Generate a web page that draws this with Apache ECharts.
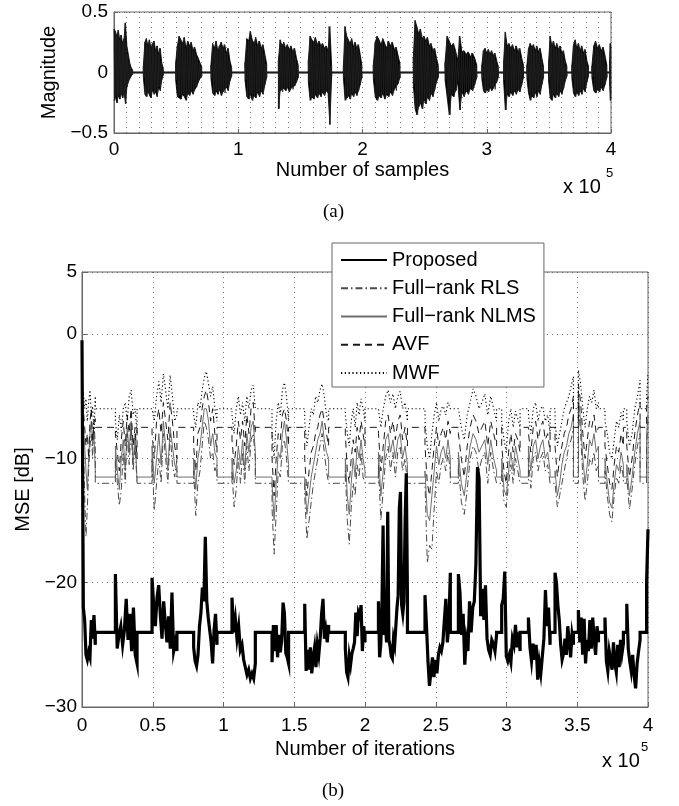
<!DOCTYPE html>
<html><head><meta charset="utf-8">
<script src="https://cdn.jsdelivr.net/npm/echarts@6/dist/echarts.min.js"></script>
<style>html,body{margin:0;padding:0;background:#fff}#c{width:679px;height:806px}</style>
</head><body><div id="c"></div>
<script>
// ---------- (a) speech signal: burst spans (x 1e5 samples) and peak envelopes ----------
const sigStart = [0, 0.236, 0.496, 0.78, 1.054, 1.323, 1.564, 1.846, 2.087, 2.409, 2.664, 2.96, 3.135, 3.323, 3.497, 3.685, 3.846, 3.989];
const sigEnd   = [0.15, 0.397, 0.706, 0.947, 1.229, 1.483, 1.752, 1.995, 2.302, 2.61, 2.92, 3.093, 3.296, 3.457, 3.645, 3.819, 3.967, 4.0];
const sigHi = [
  [0.36,0.34,0.30,0.35,0.27,0.31,0.24,0.28,0.41,0.22,0.15,0.08,0.04,0.02],
  [0.05,0.25,0.28,0.22,0.27,0.2,0.24,0.26,0.18,0.22,0.15,0.2,0.08,0.03],
  [0.08,0.22,0.3,0.27,0.24,0.29,0.2,0.26,0.22,0.25,0.18,0.21,0.15,0.12,0.08,0.05],
  [0.06,0.24,0.2,0.26,0.18,0.22,0.25,0.2,0.23,0.16,0.2,0.1,0.04],
  [0.08,0.28,0.26,0.34,0.27,0.24,0.29,0.22,0.26,0.2,0.23,0.15,0.07],
  [0.1,0.27,0.22,0.25,0.2,0.23,0.19,0.22,0.17,0.2,0.12,0.06],
  [0.1,0.3,0.27,0.25,0.29,0.23,0.26,0.22,0.24,0.2,0.22,0.18,0.38,0.05],
  [0.05,0.38,0.3,0.27,0.24,0.28,0.21,0.25,0.2,0.23,0.15,0.06],
  [0.06,0.25,0.3,0.27,0.23,0.28,0.24,0.2,0.26,0.22,0.25,0.19,0.21,0.14,0.07],
  [0.12,0.43,0.38,0.32,0.36,0.28,0.3,0.26,0.29,0.22,0.24,0.18,0.2,0.12,0.06],
  [0.08,0.3,0.26,0.22,0.24,0.18,0.1,0.3,0.17,0.18,0.15,0.17,0.13,0.16,0.12,0.06],
  [0.06,0.18,0.2,0.16,0.19,0.15,0.18,0.14,0.16,0.1,0.05],
  [0.08,0.335,0.22,0.24,0.2,0.23,0.18,0.22,0.17,0.2,0.12,0.06],
  [0.06,0.2,0.24,0.21,0.23,0.18,0.22,0.17,0.2,0.12,0.05],
  [0.08,0.3,0.22,0.26,0.2,0.24,0.19,0.22,0.16,0.18,0.1,0.05],
  [0.06,0.23,0.27,0.2,0.24,0.18,0.22,0.16,0.19,0.1,0.05],
  [0.05,0.22,0.26,0.2,0.23,0.18,0.21,0.14,0.06],
  [0.1,0.24,0.2]
];
const sigLo = [
  [-0.23,-0.2,-0.25,-0.19,-0.22,-0.17,-0.21,-0.16,-0.26,-0.12,-0.08,-0.05,-0.03,-0.02],
  [-0.04,-0.18,-0.2,-0.15,-0.19,-0.21,-0.14,-0.18,-0.16,-0.2,-0.12,-0.15,-0.06,-0.02],
  [-0.06,-0.2,-0.19,-0.22,-0.18,-0.2,-0.23,-0.17,-0.19,-0.15,-0.18,-0.14,-0.12,-0.08,-0.05,-0.03],
  [-0.05,-0.17,-0.19,-0.15,-0.18,-0.14,-0.19,-0.16,-0.17,-0.12,-0.15,-0.07,-0.03],
  [-0.06,-0.2,-0.22,-0.18,-0.23,-0.19,-0.21,-0.16,-0.2,-0.15,-0.18,-0.1,-0.04],
  [-0.3,-0.15,-0.16,-0.13,-0.15,-0.12,-0.16,-0.13,-0.14,-0.11,-0.08,-0.04],
  [-0.08,-0.23,-0.2,-0.22,-0.18,-0.21,-0.17,-0.2,-0.16,-0.19,-0.15,-0.17,-0.43,-0.03],
  [-0.04,-0.23,-0.21,-0.19,-0.22,-0.17,-0.2,-0.16,-0.19,-0.15,-0.1,-0.04],
  [-0.05,-0.2,-0.23,-0.19,-0.21,-0.17,-0.22,-0.18,-0.2,-0.16,-0.19,-0.14,-0.15,-0.09,-0.04],
  [-0.1,-0.3,-0.35,-0.28,-0.25,-0.3,-0.22,-0.26,-0.2,-0.23,-0.17,-0.2,-0.14,-0.08,-0.04],
  [-0.06,-0.2,-0.35,-0.18,-0.2,-0.15,-0.08,-0.31,-0.16,-0.2,-0.15,-0.18,-0.13,-0.15,-0.1,-0.04],
  [-0.05,-0.15,-0.17,-0.14,-0.16,-0.12,-0.15,-0.13,-0.14,-0.08,-0.04],
  [-0.06,-0.31,-0.18,-0.2,-0.16,-0.19,-0.15,-0.18,-0.14,-0.16,-0.1,-0.04],
  [-0.05,-0.17,-0.23,-0.19,-0.21,-0.16,-0.2,-0.15,-0.18,-0.1,-0.04],
  [-0.06,-0.21,-0.23,-0.18,-0.21,-0.17,-0.2,-0.15,-0.18,-0.13,-0.07,-0.03],
  [-0.05,-0.17,-0.2,-0.16,-0.19,-0.15,-0.18,-0.13,-0.16,-0.08,-0.03],
  [-0.04,-0.15,-0.17,-0.14,-0.16,-0.12,-0.15,-0.1,-0.04],
  [-0.1,-0.23,-0.22]
];
const sigTicks = [0, 1, 2, 3, 4];

// ---------- (b) MSE curves: active spans (x 1e5 iterations), rest levels, burst values (dB) ----------
const mseStart = [0, 0.236, 0.495, 0.789, 1.06, 1.343, 1.574, 1.861, 2.095, 2.424, 2.66, 2.966, 3.155, 3.343, 3.508, 3.696, 3.85, 3.99];
const mseEnd   = [0.094, 0.389, 0.671, 0.954, 1.225, 1.46, 1.743, 2.0, 2.3, 2.603, 2.93, 3.096, 3.308, 3.473, 3.65, 3.826, 3.944, 4.0];
const propRest = -24, rlsRest = -12, nlmsRest = -11.5, avfRest = -7.5, mwfRest = -6;
const propVals = [
  [-0.5,-22,-23,-25.8,-26.2,-25.6,-26,-23,-24.5,-22.6,-25],
  [-19.3,-25.3,-24.2,-23.5,-25,-23.8,-21.3,-24.6,-22.5,-25.5,-22,-25.8,-26.5],
  [-19.6,-21.8,-23.5,-21.2,-20.2,-22.6,-24.5,-21.5,-23.3,-24.8,-22.7,-25.3,-20.8,-25.5,-24.8,-25.5],
  [-25.2,-26.3,-26.7,-25.8,-23.5,-22.4,-20.4,-21.5,-16.3,-21.5,-22.8,-23.8,-24.8,-26.5,-23.8,-22.5,-25],
  [-21.2,-24,-22.9,-24.5,-23.5,-25.4,-25,-26.2,-26.8,-27.4,-27,-27.7,-27.3,-27.7,-26.5],
  [-26.4,-23.4,-25.5,-23.4,-26,-24.2,-25.6,-24.6,-21.6,-22.5,-25.7,-26,-26.5],
  [-21.7,-27.1,-25.4,-27,-25.2,-27.3,-26,-25.2,-26.8,-25,-25.8,-24.5,-22.5,-21.3,-24.5,-23.8,-24.8,-23.4],
  [-25.3,-27.2,-27.6,-25.9,-26.6,-25.7,-25.3,-24.8,-22.4,-24.3,-22.4,-22.7,-21.8,-25.5,-23.5,-24.8],
  [-21.5,-26,-25,-22,-15.4,-24.2,-23.3,-24.8,-14.3,-24.6,-25.1,-25.9,-26.1,-24.5,-25,-23.5,-22,-21,-14,-12.7,-21.8,-22.5,-21.5,-15,-11.2,-21],
  [-21,-23.5,-26.3,-28.3,-27.2,-26,-27.6,-26.2,-27.3,-25.8,-25.2,-25.5,-24.8,-23,-21.3,-24.8,-23.5,-19.2],
  [-19.3,-20.8,-24.2,-22.5,-26.6,-24.6,-25.5,-21.5,-24,-22,-21.5,-18.5,-10.7,-11.6,-22.7,-20.5,-23,-20.2,-24.5,-25.4,-25.8,-24.6,-24.9,-25.5,-24.2],
  [-21.8,-21.3,-19.1,-25.9,-26.3,-25.8,-26.4,-24.5,-25,-23.4,-25.2,-24,-25.5],
  [-22.8,-25.2,-26.3,-24.9,-26.2,-25,-27.8,-26.4,-27.3,-25.9,-24.5,-20.6,-23.5,-22,-25],
  [-19.2,-20,-21.8,-23,-25,-26.2,-25.7,-24.5,-25.8,-23.5,-24.6,-26,-24.2,-25],
  [-22.2,-24.8,-22.8,-25.8,-22.9,-26.5,-24.6,-25.5,-23,-25.3,-22.8,-24.6,-25.8,-23.5,-24.8],
  [-22.8,-26.3,-27.1,-25.5,-26.2,-27,-24.8,-26.5,-27.2,-25,-26.8,-24.6,-25.7,-24.9],
  [-21.7,-25.3,-26.3,-27.1,-25.8,-27.5,-28.5,-26.5,-25.5,-24.6],
  [-20,-15.7]
];
const rlsVals = [
  [-6,-9,-13,-16.3,-14,-11,-9,-8,-10,-7,-9],
  [-10,-12,-13.8,-12.5,-9.5,-12,-8,-10.5,-7.5,-11,-9,-12],
  [-10,-14.2,-12,-10,-12,-8,-10,-12,-8,-10.5,-11.5,-10],
  [-11,-14.6,-12,-11,-9,-7,-7.5,-8.5,-10,-9.5,-11,-10.5],
  [-11,-13.9,-12.5,-10,-12,-9.5,-12,-9,-11,-8.5,-8,-10],
  [-14,-17.7,-14.5,-11,-11.5,-9,-8.5,-10,-12],
  [-13,-16.5,-15,-13.5,-12,-11,-10,-9,-8,-9.5,-11,-12],
  [-11,-15,-16.9,-14,-12,-13,-10.5,-11.5,-9.5,-11.5,-12],
  [-10.5,-15,-12.5,-10,-9,-11,-9.5,-11.5,-9.5,-9,-11,-10,-12],
  [-12,-18.4,-17,-17.3,-14,-11,-12,-10.5,-10,-11,-9.5,-11],
  [-10.5,-13.5,-14.5,-12.5,-10,-9,-9.5,-11,-10,-9.5,-12,-9.5,-11,-12],
  [-11,-13.5,-13.9,-12,-10.5,-12,-10,-11,-12],
  [-10,-12.4,-10,-9.5,-11,-10,-9.5,-11,-10.5,-12],
  [-12,-13.9,-13,-12,-11,-10,-9,-8.5,-7.5],
  [-5.5,-8,-11.5,-13.4,-12,-10,-10.5,-9.5,-11,-10.5],
  [-11,-13,-14.5,-15.1,-13,-11.5,-12,-10.5,-11.5],
  [-11.5,-14.1,-12.5,-10.5,-9,-8],
  [-9,-7]
];
const nlmsVals = [
  [-6,-7,-9,-11,-12.5,-10,-8,-7,-9,-8,-11],
  [-9,-11,-12.5,-10,-8.5,-11,-7.5,-9.5,-7,-10.5,-8,-11.8],
  [-9,-12,-10,-8,-10.5,-7,-9,-11,-7.5,-9,-10.5,-11],
  [-10,-12.5,-10,-9,-7.5,-6,-6,-7,-9,-8,-9.5,-10],
  [-10,-12,-11,-9,-10.5,-8.5,-11,-8,-9.5,-7.5,-7,-9.5],
  [-12,-15,-12,-9.5,-10,-8,-7,-8.5,-10.5],
  [-12,-14.5,-13,-11.5,-10.5,-9.5,-8.5,-8,-7,-8.5,-9.5,-10],
  [-10,-13,-14.5,-12,-10,-11.5,-9,-10,-8.5,-10,-11],
  [-9.5,-13,-11,-8.5,-8,-9.5,-8.5,-10,-8.5,-8,-10,-9,-10.5],
  [-11,-14.5,-15,-13,-11,-9,-10.5,-9.5,-9,-10,-8.5,-10],
  [-9.5,-12,-13,-11,-9,-8,-8.5,-9.5,-9,-8.5,-10.5,-8.5,-10,-11],
  [-10,-12.5,-13,-11,-9.5,-11,-9,-10,-11],
  [-9,-11,-9,-8.5,-10,-9,-8.5,-10,-9.5,-11],
  [-11,-13,-12,-10.5,-9.5,-9,-8,-7.5,-6.5],
  [-5,-7,-10,-12,-10.5,-8.5,-9,-8,-9.5,-9],
  [-10,-12,-13.5,-14,-12,-10.5,-11,-9.5,-10.5],
  [-10.5,-13,-11.5,-9.5,-8,-7],
  [-8,-6.5]
];
const avfVals = [
  [-5.5,-6,-7.5,-9,-8,-10,-7,-6,-8.5,-7,-6.8],
  [-8,-9.5,-11,-8.5,-7,-9,-6.5,-8,-6,-9,-7.5,-10],
  [-8,-10,-7,-6,-8,-5.5,-7,-8.5,-5.5,-7,-9,-10],
  [-9,-11,-8,-7.5,-6,-5,-4.5,-5.5,-7,-6,-8,-9.5],
  [-8.5,-10.5,-9,-7,-8.5,-7,-9,-6.5,-8,-6,-5.5,-8],
  [-10,-13,-10,-8,-8.5,-6.5,-6,-7,-9],
  [-10,-13,-11,-9.5,-9,-8,-7.5,-6.5,-6,-7,-8,-9],
  [-8,-11,-12,-10,-8.5,-9.5,-7.5,-8.5,-7,-8,-9],
  [-8,-11,-9,-7,-6.5,-8,-7,-8.5,-7,-6.5,-8.5,-7.5,-9],
  [-9,-12,-13,-11,-9,-7.5,-9,-8,-7.5,-8.5,-7,-8],
  [-8,-10,-11.5,-9,-7.5,-6.5,-7,-8,-7.5,-7,-9,-7,-8,-9],
  [-9,-11,-12,-9.5,-8,-9.5,-8,-8.5,-9.5],
  [-8,-9.5,-7.5,-7,-8.5,-7.5,-7,-8.5,-8,-9.5],
  [-9,-11.5,-10,-9,-8,-7.5,-6.5,-6,-5],
  [-4,-5.5,-8,-10,-8.5,-7,-7.5,-6.5,-8,-7.5],
  [-9,-10.5,-12,-12.5,-10.5,-9,-9.5,-8,-9],
  [-9,-11.5,-10,-8,-6.5,-5.5],
  [-6,-5]
];
const mwfVals = [
  [-5,-4.6,-6,-5.2,-7,-5.5,-4.5,-6.5,-5.8,-8,-5],
  [-7,-8.5,-6.5,-7.8,-6,-5.5,-7,-5,-4.5,-6.5,-6,-8],
  [-6,-7,-5,-3.8,-5.5,-3.2,-4.5,-6,-3.3,-5,-7,-6.5],
  [-6.5,-7.5,-5.5,-6,-4.5,-3.5,-3,-4,-5,-4.2,-6,-7],
  [-6.5,-8,-6,-5,-6.5,-5.5,-7,-5,-6,-4.5,-4.1,-6],
  [-8,-10,-7,-5.5,-6.5,-4.5,-3.9,-5,-7],
  [-7,-9,-7.5,-6,-6.5,-5,-5.5,-4.5,-4,-5,-6.5,-7],
  [-6.5,-8,-9,-7,-6,-7.5,-5.5,-6.5,-5.2,-6,-7],
  [-6,-7.5,-6,-5,-4.5,-5.5,-4.8,-6,-5,-4.6,-6,-5.5,-7],
  [-7,-9,-10,-8,-6.5,-5.5,-7,-6,-5.8,-6.5,-5.5,-6],
  [-6,-7.5,-8.5,-6.5,-5.5,-4.4,-5,-6,-5.5,-4.8,-6.5,-5,-6,-7],
  [-7,-8.5,-9.5,-7,-6,-7.5,-6.2,-6.8,-7.5],
  [-6.5,-8,-6,-5.5,-7,-6,-5.8,-7,-6.5,-8],
  [-7,-9,-8,-7,-6,-5.5,-5,-4.2,-3.4],
  [-2.9,-4,-6,-7.5,-6,-5,-5.5,-4.5,-6,-5.5],
  [-7,-8,-9.5,-10,-8.5,-7,-7.5,-6.3,-7],
  [-7,-9,-8,-6,-5,-3.7],
  [-5,-3.2]
];
const mseXTicks = [0, 0.5, 1, 1.5, 2, 2.5, 3, 3.5, 4];
const mseYTicks = [-30, -20, -10, 0, 5];
const names = ['Proposed', 'Full\u2212rank RLS', 'Full\u2212rank NLMS', 'AVF', 'MWF'];

// ---------- builders ----------
const X_MAX = 4;
function buildSeg(starts, ends, vals, rest) {
  const out = [];
  for (let i = 0; i < starts.length; i++) {
    const s = starts[i], e = ends[i], v = vals[i], n = v.length;
    if (s > 0) out.push([s, rest]);
    for (let k = 0; k < n; k++) out.push([n === 1 ? s : s + k * (e - s) / (n - 1), v[k]]);
    if (e < X_MAX) out.push([e, rest]);
  }
  return out;
}
function buildWave(starts, ends, hi, lo) {
  const out = [];
  for (let i = 0; i < starts.length; i++) {
    const s = starts[i], e = ends[i], n = hi[i].length, m = 2 * n;
    if (s > 0) out.push([s, 0]);
    for (let k = 0; k < n; k++) {
      out.push([s + (2 * k) * (e - s) / (m - 1), hi[i][k]]);
      out.push([s + (2 * k + 1) * (e - s) / (m - 1), lo[i][k]]);
    }
    if (e < X_MAX) out.push([e, 0]);
  }
  return out;
}
const fmt = v => String(v).replace('-', '\u2212');
const FONT = 'Liberation Sans';
const dotted = { color: '#555', width: 0.8, type: [1, 4] };
const axisTxt = { fontFamily: FONT, fontSize: 19, color: '#000' };
const nameTxt = { fontFamily: FONT, fontSize: 20, color: '#000' };

const chart = echarts.init(document.getElementById('c'), null, { renderer: 'canvas' });
chart.setOption({
  animation: false,
  backgroundColor: '#fff',
  grid: [
    { left: 114, top: 12, width: 497, height: 121, show: true, borderColor: '#666', borderWidth: 1, backgroundColor: 'transparent' },
    { left: 82, top: 272, width: 566, height: 435, show: true, borderColor: '#666', borderWidth: 1, backgroundColor: 'transparent' }
  ],
  xAxis: [
    { type: 'value', gridIndex: 0, min: sigTicks[0], max: sigTicks[sigTicks.length - 1], interval: 1,
      name: 'Number of samples', nameLocation: 'middle', nameGap: 27, nameTextStyle: nameTxt,
      axisLine: { onZero: false, lineStyle: { color: '#666' } }, axisTick: { inside: true, length: 4, lineStyle: { color: '#666' } },
      axisLabel: Object.assign({ margin: 7, formatter: fmt }, axisTxt),
      splitLine: { show: true, lineStyle: dotted },
      minorTick: { show: false, splitNumber: 10 }, minorSplitLine: { show: true, lineStyle: dotted } },
    { type: 'value', gridIndex: 1, min: mseXTicks[0], max: mseXTicks[mseXTicks.length - 1], interval: 0.5,
      name: 'Number of iterations', nameLocation: 'middle', nameGap: 29, nameTextStyle: nameTxt,
      axisLine: { onZero: false, lineStyle: { color: '#666' } }, axisTick: { inside: true, length: 5, lineStyle: { color: '#666' } },
      axisLabel: Object.assign({ margin: 9, formatter: fmt }, axisTxt),
      splitLine: { show: true, lineStyle: dotted } }
  ],
  yAxis: [
    { type: 'value', gridIndex: 0, min: -0.5, max: 0.5, interval: 0.5,
      name: 'Magnitude', nameLocation: 'middle', nameGap: 53, nameTextStyle: nameTxt,
      axisLine: { show: true, onZero: false, lineStyle: { color: '#666' } }, axisTick: { show: true, inside: true, length: 4, lineStyle: { color: '#666' } },
      axisLabel: Object.assign({ margin: 6, formatter: fmt }, axisTxt),
      splitLine: { show: true, lineStyle: dotted } },
    { type: 'value', gridIndex: 1, min: mseYTicks[0], max: mseYTicks[mseYTicks.length - 1], interval: 10,
      name: 'MSE [dB]', nameLocation: 'middle', nameGap: 47, nameTextStyle: nameTxt,
      axisLine: { show: true, onZero: false, lineStyle: { color: '#666' } }, axisTick: { show: true, inside: true, length: 5, lineStyle: { color: '#666' } },
      axisLabel: Object.assign({ margin: 5, formatter: fmt }, axisTxt),
      splitLine: { show: true, lineStyle: dotted } }
  ],
  legend: {
    data: names, orient: 'vertical', left: 332, top: 243,
    itemWidth: 46, itemHeight: 20, itemGap: 8.25, padding: [7, 8, 4, 8],
    backgroundColor: '#fff', borderColor: '#666', borderWidth: 1, borderRadius: 0,
    itemStyle: { opacity: 0 },
    selectedMode: false, textStyle: { fontFamily: FONT, fontSize: 20, color: '#000' }
  },
  graphic: [
    { type: 'text', left: 563, top: 177, style: { text: 'x 10', font: '20px "Liberation Sans"', fill: '#000' } },
    { type: 'text', left: 606, top: 167, style: { text: '5', font: '13px "Liberation Sans"', fill: '#000' } },
    { type: 'text', left: 602, top: 751, style: { text: 'x 10', font: '20px "Liberation Sans"', fill: '#000' } },
    { type: 'text', left: 641, top: 741, style: { text: '5', font: '13px "Liberation Sans"', fill: '#000' } },
    { type: 'text', left: 323, top: 203, style: { text: '(a)', font: '19px "Liberation Serif"', fill: '#000' } },
    { type: 'text', left: 322, top: 782, style: { text: '(b)', font: '19px "Liberation Serif"', fill: '#000' } }
  ],
  series: [
    { name: 'signal-zero', type: 'line', xAxisIndex: 0, yAxisIndex: 0, symbol: 'none', silent: true,
      data: [[sigTicks[0], 0], [sigTicks[sigTicks.length - 1], 0]], lineStyle: { color: '#000', width: 2.2 } },
    { name: 'signal-hi', type: 'line', xAxisIndex: 0, yAxisIndex: 0, symbol: 'none', silent: true,
      data: buildSeg(sigStart, sigEnd, sigHi, 0),
      lineStyle: { color: '#000', width: 0.8 }, areaStyle: { color: '#000', opacity: 1 } },
    { name: 'signal-lo', type: 'line', xAxisIndex: 0, yAxisIndex: 0, symbol: 'none', silent: true,
      data: buildSeg(sigStart, sigEnd, sigLo, 0),
      lineStyle: { color: '#000', width: 0.8 }, areaStyle: { color: '#000', opacity: 1 } },
    { name: 'signal', type: 'line', xAxisIndex: 0, yAxisIndex: 0, symbol: 'none', silent: true,
      data: buildWave(sigStart, sigEnd, sigHi, sigLo),
      lineStyle: { color: '#222', width: 0.8 } },
    { name: names[2], type: 'line', xAxisIndex: 1, yAxisIndex: 1, symbol: 'none',
      data: buildSeg(mseStart, mseEnd, nlmsVals, nlmsRest), lineStyle: { color: '#6e6e6e', width: 1, type: 'solid' } },
    { name: names[1], type: 'line', xAxisIndex: 1, yAxisIndex: 1, symbol: 'none',
      data: buildSeg(mseStart, mseEnd, rlsVals, rlsRest), lineStyle: { color: '#4a4a4a', width: 1, type: [7, 3, 1.5, 3] } },
    { name: names[3], type: 'line', xAxisIndex: 1, yAxisIndex: 1, symbol: 'none',
      data: buildSeg(mseStart, mseEnd, avfVals, avfRest), lineStyle: { color: '#1a1a1a', width: 1, type: [7, 5] } },
    { name: names[4], type: 'line', xAxisIndex: 1, yAxisIndex: 1, symbol: 'none',
      data: buildSeg(mseStart, mseEnd, mwfVals, mwfRest), lineStyle: { color: '#000', width: 1.1, type: [1.2, 2.6] } },
    { name: names[0], type: 'line', xAxisIndex: 1, yAxisIndex: 1, symbol: 'none',
      data: buildSeg(mseStart, mseEnd, propVals, propRest), lineStyle: { color: '#000', width: 3.2, join: 'miter' } }
  ]
});
</script></body></html>
